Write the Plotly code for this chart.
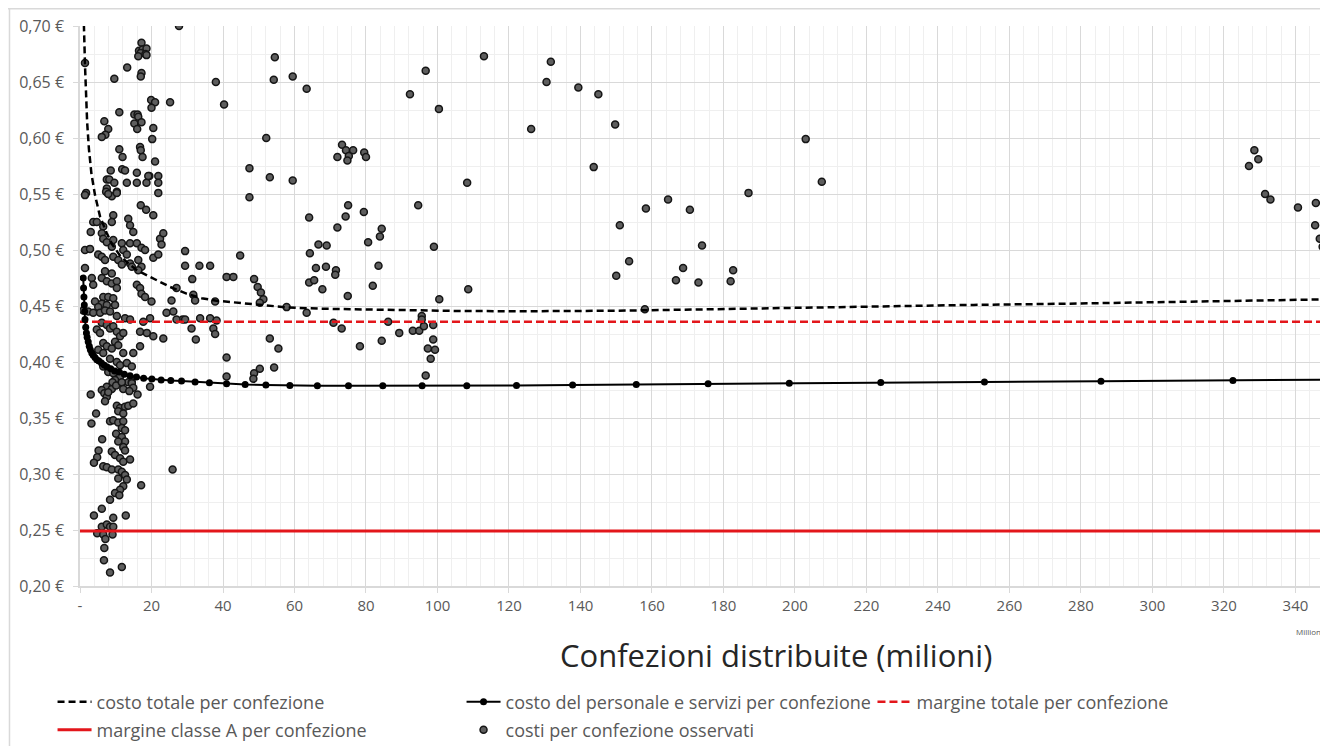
import plotly.graph_objects as go

# ---------------- data ----------------
y_ticks = [0.20, 0.25, 0.30, 0.35, 0.40, 0.45, 0.50, 0.55, 0.60, 0.65, 0.70]
y_ticklabels = ["0,20 €", "0,25 €", "0,30 €", "0,35 €", "0,40 €", "0,45 €",
                "0,50 €", "0,55 €", "0,60 €", "0,65 €", "0,70 €"]
x_ticks = [0, 20, 40, 60, 80, 100, 120, 140, 160, 180, 200, 220, 240, 260, 280, 300, 320, 340]
x_ticklabels = ["-", "20", "40", "60", "80", "100", "120", "140", "160", "180", "200",
                "220", "240", "260", "280", "300", "320", "340"]

# costo totale per confezione (dashed black)
tot_x = [0.6, 0.8, 1.1, 1.4, 1.7, 2.0, 2.5, 3.2, 4.2, 5.6, 7.5, 9.0, 11.2, 13.5, 15.9,
         20.4, 25.2, 29.8, 34.0, 38.2, 46.6, 57.8, 67.0, 79.0, 93.0, 107.0, 125.0, 150.0,
         175.0, 200.0, 225.0, 250.0, 275.0, 300.0, 325.0, 350.0]
tot_y = [0.780, 0.735, 0.700, 0.665, 0.636, 0.614, 0.590, 0.568, 0.549, 0.530, 0.515,
         0.505, 0.495, 0.488, 0.482, 0.475, 0.467, 0.461, 0.457, 0.4547, 0.4524, 0.4488,
         0.4476, 0.4470, 0.4458, 0.4455, 0.4453, 0.4458, 0.4470, 0.4485, 0.4497, 0.4510,
         0.4520, 0.4535, 0.4550, 0.4560]

# costo del personale e servizi per confezione (solid black with markers)
pers_x = [0.9, 1.0, 1.1, 1.2, 1.3, 1.4, 1.6, 1.8, 2.0, 2.3, 2.6, 2.9, 3.3, 3.7, 4.2, 4.7,
          5.3, 6.0, 6.8, 7.6, 8.6, 9.7, 11.0, 12.4, 14.0, 15.8, 17.8, 20.1, 22.7, 25.4,
          28.4, 32.2, 36.2, 41.0, 46.2, 52.0, 58.7, 66.4, 75.1, 84.7, 95.7, 108.2, 122.1,
          137.8, 155.6, 175.7, 198.4, 224.0, 253.0, 285.6, 322.5, 364.0]
pers_y = [0.475, 0.466, 0.458, 0.451, 0.445, 0.438, 0.431, 0.426, 0.422, 0.418, 0.414,
          0.411, 0.408, 0.406, 0.404, 0.402, 0.401, 0.399, 0.397, 0.3955, 0.394, 0.392,
          0.391, 0.389, 0.3878, 0.3866, 0.3855, 0.3848, 0.3840, 0.3834, 0.3830, 0.3822,
          0.3815, 0.3805, 0.3798, 0.3795, 0.3791, 0.3789, 0.3788, 0.3788, 0.3788, 0.3789,
          0.3790, 0.3795, 0.3800, 0.3805, 0.3810, 0.3816, 0.3822, 0.3828, 0.3835, 0.3845]

# horizontal margins
margin_x = [0, 360]
margine_totale = 0.436
margine_classe_a = 0.249

# costi per confezione osservati (x in milioni, y in €)
observed = [
    (27.7, 0.700), (54.5, 0.672), (38.0, 0.650), (54.2, 0.652), (59.5, 0.655), (40.3, 0.630),
    (63.4, 0.644), (52.1, 0.600), (47.4, 0.573), (53.1, 0.565), (59.5, 0.562), (47.4, 0.547),
    (64.1, 0.529), (73.3, 0.594), (74.4, 0.589), (76.4, 0.589), (75.2, 0.584), (72.0, 0.583),
    (74.8, 0.580), (79.5, 0.587), (80.0, 0.583), (75.0, 0.540), (74.3, 0.530), (79.4, 0.534),
    (72.0, 0.520), (84.4, 0.519), (83.9, 0.512), (80.6, 0.507), (66.7, 0.505), (69.0, 0.504),
    (99.0, 0.503), (92.3, 0.639), (96.7, 0.660), (100.4, 0.626), (113.0, 0.673), (94.6, 0.540),
    (108.3, 0.560), (131.7, 0.668), (130.5, 0.650), (139.4, 0.645), (145.0, 0.639),
    (126.2, 0.608), (143.7, 0.574), (149.7, 0.612), (151.0, 0.522), (153.6, 0.490),
    (150.0, 0.477), (158.3, 0.537), (164.5, 0.545), (170.6, 0.536), (166.7, 0.473),
    (168.7, 0.484), (173.0, 0.471), (174.0, 0.504), (182.0, 0.472), (182.7, 0.482),
    (187.0, 0.551), (158.0, 0.447), (203.0, 0.599), (207.5, 0.561),
    (327.0, 0.575), (328.5, 0.589), (329.6, 0.581), (331.5, 0.550), (333.0, 0.545),
    (340.7, 0.538), (345.7, 0.542), (345.5, 0.522), (346.8, 0.510), (347.6, 0.503),
    (348.4, 0.493), (25.9, 0.304),
    (29.4, 0.499), (29.4, 0.486), (33.4, 0.486), (36.4, 0.486), (44.8, 0.495), (31.4, 0.474),
    (41.0, 0.476), (42.9, 0.476), (48.7, 0.474), (49.7, 0.467), (50.6, 0.462), (51.3, 0.456),
    (50.3, 0.453), (31.7, 0.460), (32.2, 0.455), (37.8, 0.454), (33.6, 0.439), (36.4, 0.439),
    (38.2, 0.437), (28.7, 0.438), (31.2, 0.430), (37.3, 0.430), (37.8, 0.425), (32.4, 0.420),
    (41.0, 0.404), (41.0, 0.387), (48.7, 0.390), (48.5, 0.385), (50.3, 0.394), (54.3, 0.395),
    (53.1, 0.421), (55.5, 0.412), (64.3, 0.497), (64.1, 0.471), (65.5, 0.473), (66.0, 0.484),
    (68.8, 0.485), (71.6, 0.482), (71.4, 0.478), (67.8, 0.465), (63.4, 0.444), (57.8, 0.449),
    (74.9, 0.459), (70.9, 0.435), (73.2, 0.430), (78.3, 0.414), (81.9, 0.468), (83.5, 0.486),
    (84.4, 0.419), (86.2, 0.436), (89.3, 0.426), (93.1, 0.428), (94.9, 0.428), (95.6, 0.441),
    (95.6, 0.438), (96.2, 0.432), (98.8, 0.433), (98.8, 0.420), (97.3, 0.412), (99.3, 0.411),
    (98.1, 0.403), (96.7, 0.388), (100.5, 0.456), (108.6, 0.465),
    (19.9, 0.634), (21.0, 0.632), (20.0, 0.627), (25.2, 0.632), (20.5, 0.609), (20.2, 0.599),
    (21.0, 0.579), (19.4, 0.566), (21.9, 0.566), (21.9, 0.560), (21.9, 0.551),
    (17.2, 0.685), (16.5, 0.678), (17.5, 0.679), (18.6, 0.680), (17.0, 0.676), (18.3, 0.675),
    (16.3, 0.673), (18.6, 0.674), (1.4, 0.667), (13.2, 0.663), (17.2, 0.658), (17.0, 0.655),
    (9.6, 0.653), (11.0, 0.623), (15.2, 0.621), (16.1, 0.621), (16.3, 0.619), (15.2, 0.613),
    (17.2, 0.614), (16.0, 0.608), (6.8, 0.615), (7.9, 0.608), (7.1, 0.603), (6.1, 0.601),
    (11.0, 0.590), (11.9, 0.583), (16.8, 0.592), (17.0, 0.589), (17.5, 0.583), (8.6, 0.571),
    (7.5, 0.563), (11.8, 0.572), (12.6, 0.571), (15.9, 0.569), (8.2, 0.563), (9.6, 0.560),
    (13.1, 0.560), (15.9, 0.560), (18.6, 0.560), (19.1, 0.566), (7.5, 0.555), (7.3, 0.552),
    (8.9, 0.548), (10.3, 0.552), (1.7, 0.551),
    (1.4, 0.549), (7.9, 0.550), (10.3, 0.551), (17.0, 0.540), (18.5, 0.536), (20.5, 0.531),
    (9.3, 0.531), (8.9, 0.525), (3.7, 0.525), (4.7, 0.525), (6.5, 0.521), (6.1, 0.515),
    (13.5, 0.528), (14.0, 0.522), (14.9, 0.516), (3.0, 0.516), (6.5, 0.510), (7.5, 0.507),
    (8.9, 0.503), (9.3, 0.509), (11.7, 0.506), (12.1, 0.500), (13.1, 0.496), (14.0, 0.506),
    (15.9, 0.506), (17.2, 0.502), (18.2, 0.500), (22.4, 0.510), (22.8, 0.505), (23.3, 0.515),
    (1.4, 0.500), (2.8, 0.501), (5.1, 0.496), (6.1, 0.494), (7.0, 0.491), (9.3, 0.494),
    (10.7, 0.491), (11.7, 0.487), (14.0, 0.488), (14.5, 0.485), (16.3, 0.491), (17.2, 0.485),
    (16.3, 0.482), (20.5, 0.493), (21.9, 0.496), (1.4, 0.484), (7.0, 0.481), (8.9, 0.479),
    (6.1, 0.475), (7.5, 0.472), (8.9, 0.470), (10.3, 0.472), (10.3, 0.466), (3.3, 0.475),
    (3.7, 0.469), (15.9, 0.469), (16.8, 0.466), (17.2, 0.461), (18.2, 0.458), (6.5, 0.458),
    (7.9, 0.458), (9.3, 0.457), (6.1, 0.452), (7.5, 0.451), (4.2, 0.454), (5.1, 0.449),
    (9.8, 0.451), (25.6, 0.455), (27.0, 0.466), (20.0, 0.454), (0.9, 0.446), (2.3, 0.445),
    (3.7, 0.444), (5.6, 0.444), (7.0, 0.446), (8.4, 0.445), (10.3, 0.441), (12.6, 0.439),
    (14.0, 0.438), (17.7, 0.436), (19.6, 0.439), (24.2, 0.444), (26.1, 0.445), (27.0, 0.438),
    (29.4, 0.438), (6.1, 0.435), (7.5, 0.433), (8.4, 0.430), (9.3, 0.432), (4.7, 0.429),
    (5.6, 0.426), (10.3, 0.427), (11.2, 0.423), (12.1, 0.426), (16.8, 0.427), (18.7, 0.426),
    (20.5, 0.423), (23.3, 0.421), (6.5, 0.417), (7.5, 0.414), (8.9, 0.412), (9.8, 0.418),
    (10.7, 0.415), (12.1, 0.408), (14.9, 0.408), (16.8, 0.414), (5.1, 0.411), (6.5, 0.408),
    (8.4, 0.403), (10.3, 0.400), (11.2, 0.397), (13.1, 0.399), (14.5, 0.396), (6.5, 0.396),
    (7.9, 0.391), (9.3, 0.390), (11.2, 0.387), (9.8, 0.384), (13.5, 0.382), (14.5, 0.382),
    (19.6, 0.378), (7.5, 0.378), (8.9, 0.376),
    (9.1, 0.382), (10.1, 0.379), (11.7, 0.382), (14.5, 0.381), (14.9, 0.377), (12.1, 0.376),
    (13.8, 0.374), (6.1, 0.375), (6.8, 0.372), (7.5, 0.369), (7.9, 0.373), (3.0, 0.371),
    (16.1, 0.371), (7.0, 0.365), (10.3, 0.361), (11.2, 0.359), (12.6, 0.360), (13.5, 0.361),
    (14.9, 0.363), (10.7, 0.356), (12.1, 0.354), (4.5, 0.354), (3.2, 0.345), (8.4, 0.347),
    (9.3, 0.348), (10.7, 0.346), (12.1, 0.347), (11.7, 0.341), (12.6, 0.339), (10.1, 0.336),
    (11.7, 0.333), (12.6, 0.329), (6.2, 0.331), (10.7, 0.329), (12.1, 0.324), (12.6, 0.321),
    (5.2, 0.321), (8.9, 0.320), (9.8, 0.317), (11.2, 0.314), (12.1, 0.311), (4.8, 0.315),
    (3.9, 0.310), (14.0, 0.313), (6.5, 0.307), (7.5, 0.306), (8.9, 0.304), (10.7, 0.304),
    (11.7, 0.302), (12.6, 0.299), (13.1, 0.295), (10.7, 0.296), (12.1, 0.289), (11.2, 0.286),
    (9.8, 0.283), (11.0, 0.281), (17.1, 0.290), (8.4, 0.277), (6.1, 0.269), (3.9, 0.263),
    (9.3, 0.261), (12.8, 0.263), (6.1, 0.253), (7.5, 0.255), (8.4, 0.253), (9.3, 0.253),
    (4.8, 0.247), (6.5, 0.246), (9.1, 0.246), (7.1, 0.242), (6.8, 0.234), (6.7, 0.223),
    (11.7, 0.217), (8.4, 0.212),
]
obs_x = [p[0] for p in observed]
obs_y = [p[1] for p in observed]

# ---------------- figure ----------------
FONT = "Open Sans"
GRAY = "#595959"
GRID = "#d9d9d9"
MINOR = "#efefef"
RED = "#e3161b"
LEG_FONT = dict(family=FONT, size=18, color=GRAY)

fig = go.Figure()

fig.add_trace(go.Scatter(
    x=obs_x, y=obs_y, mode="markers", name="costi per confezione osservati",
    legend="legend3", legendrank=2,
    marker=dict(size=7, color="#5e5e5e", line=dict(color="#151515", width=1.5)),
))
fig.add_trace(go.Scatter(
    x=tot_x, y=tot_y, mode="lines", name="costo totale per confezione",
    legend="legend", legendrank=1,
    line=dict(color="black", width=2.5, dash="7px,4px"),
))
fig.add_trace(go.Scatter(
    x=margin_x, y=[margine_totale, margine_totale], mode="lines",
    name="margine totale per confezione", legend="legend2",
    line=dict(color=RED, width=2.5, dash="8px,4px"),
))
fig.add_trace(go.Scatter(
    x=margin_x, y=[margine_classe_a, margine_classe_a], mode="lines",
    name="margine classe A per confezione", legend="legend3", legendrank=1,
    line=dict(color=RED, width=3),
))
fig.add_trace(go.Scatter(
    x=pers_x, y=pers_y, mode="lines+markers",
    name="costo del personale e servizi per confezione", legend="legend", legendrank=2,
    line=dict(color="black", width=2),
    marker=dict(size=7, color="black"),
))

leg_common = dict(orientation="h", xanchor="left", yanchor="middle", font=LEG_FONT,
                  traceorder="normal", itemwidth=34, bgcolor="rgba(0,0,0,0)",
                  entrywidth=360, entrywidthmode="pixels")

fig.update_layout(
    width=1320, height=738,
    margin=dict(l=72, r=0, t=18, b=160, autoexpand=False),
    paper_bgcolor="white", plot_bgcolor="white",
    font=dict(family=FONT, color=GRAY, size=14),
    showlegend=True,
    legend=dict(x=-0.022, y=-0.2071, **leg_common),
    legend2=dict(x=0.635, y=-0.2071, **leg_common),
    legend3=dict(x=-0.022, y=-0.2571, **leg_common),
    xaxis=dict(
        range=[0, 349.1], tickmode="array", tickvals=x_ticks, ticktext=x_ticklabels,
        showgrid=True, gridcolor=GRID, gridwidth=1,
        showline=True, linecolor=GRID, linewidth=1.5,
        ticks="outside", ticklen=5, tickcolor=GRID,
        tickfont=dict(family=FONT, size=15, color=GRAY),
        zeroline=False, automargin=False,
        minor=dict(tickmode="linear", tick0=0, dtick=4, showgrid=True,
                   gridcolor=MINOR, gridwidth=1, ticks=""),
    ),
    yaxis=dict(
        range=[0.20, 0.70], tickmode="array", tickvals=y_ticks, ticktext=y_ticklabels,
        showgrid=True, gridcolor=GRID, gridwidth=1,
        showline=True, linecolor=GRID, linewidth=1.5,
        ticks="outside", ticklen=5, tickcolor=GRID,
        tickfont=dict(family=FONT, size=16, color=GRAY),
        ticklabelstandoff=6,
        zeroline=False, automargin=False,
        minor=dict(tickmode="linear", tick0=0.2, dtick=0.025, showgrid=True,
                   gridcolor=MINOR, gridwidth=1, ticks=""),
    ),
    annotations=[
        dict(text="Confezioni distribuite (milioni)", xref="paper", yref="paper",
             x=0.5577, y=-0.123, xanchor="center", yanchor="middle", showarrow=False,
             font=dict(family=FONT, size=31, color="#262626")),
        dict(text="Millions", xref="paper", yref="paper",
             x=0.999, y=-0.082, xanchor="right", yanchor="middle", showarrow=False,
             font=dict(family=FONT, size=8, color=GRAY)),
    ],
    shapes=[
        dict(type="line", xref="paper", yref="paper", x0=-0.0577, x1=1.1, y0=1.031, y1=1.031,
             line=dict(color=GRID, width=1.5)),
        dict(type="line", xref="paper", yref="paper", x0=-0.0565, x1=-0.0565, y0=1.031, y1=-0.4,
             line=dict(color=GRID, width=1.5)),
    ],
)

fig.write_html("out.html")
